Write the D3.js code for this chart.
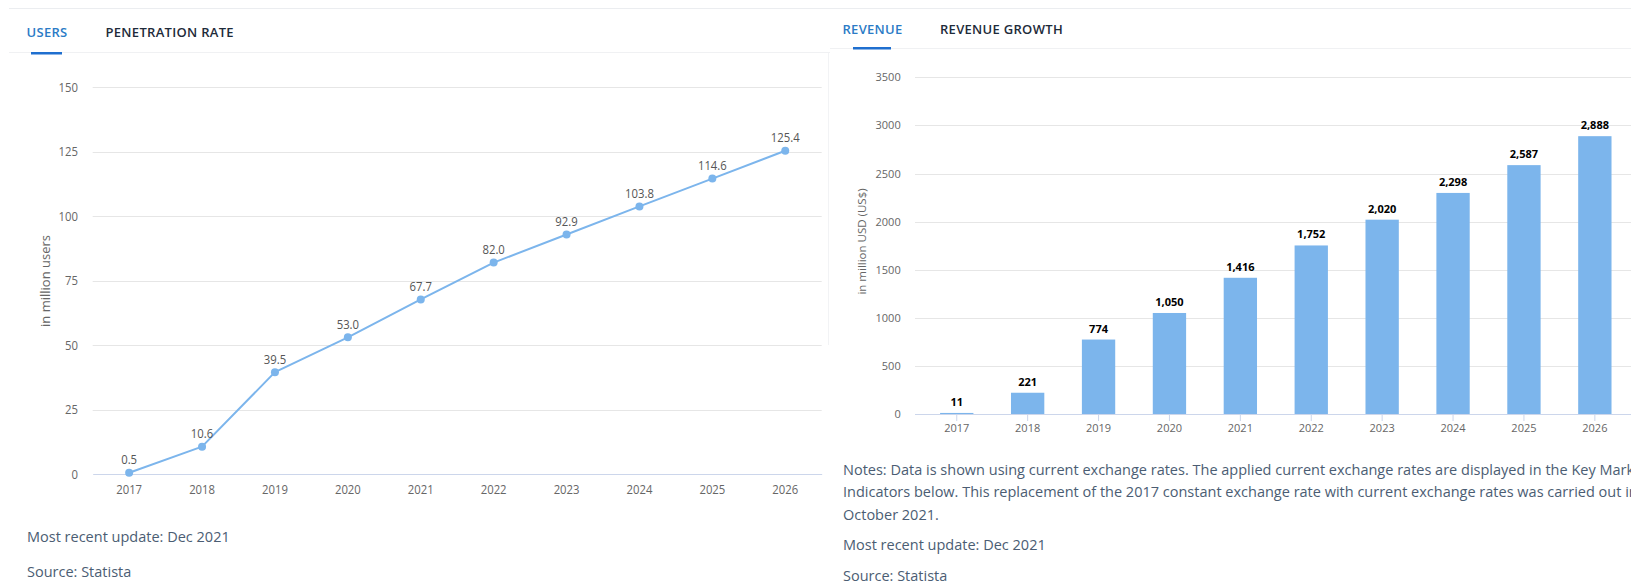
<!DOCTYPE html>
<html>
<head>
<meta charset="utf-8">
<script src="https://cdn.jsdelivr.net/npm/d3@7"></script>
<style>
  html, body { margin: 0; padding: 0; background: #fff; overflow: hidden; }
  svg { display: block; font-family: "Open Sans", "Noto Sans", sans-serif; }
</style>
</head>
<body>
<svg id="chart" width="1631" height="585"></svg>
<script>
// ---- data ----
const years = ["2017", "2018", "2019", "2020", "2021", "2022", "2023", "2024", "2025", "2026"];
const users = [0.5, 10.6, 39.5, 53.0, 67.7, 82.0, 92.9, 103.8, 114.6, 125.4];
const revenue = [11, 221, 774, 1050, 1416, 1752, 2020, 2298, 2587, 2888];
const userTicks = [0, 25, 50, 75, 100, 125, 150];
const revenueTicks = [0, 500, 1000, 1500, 2000, 2500, 3000, 3500];
const leftTabs = ["USERS", "PENETRATION RATE"];
const rightTabs = ["REVENUE", "REVENUE GROWTH"];
const userAxisTitle = "in million users";
const revenueAxisTitle = "in million USD (US$)";
const notesLines = [
  "Notes: Data is shown using current exchange rates. The applied current exchange rates are displayed in the Key Market",
  "Indicators below. This replacement of the 2017 constant exchange rate with current exchange rates was carried out in",
  "October 2021."
];
const footerLines = ["Most recent update: Dec 2021", "Source: Statista"];

// ---- styles ----
const SERIES = "#7cb5ec";
const GRID = "#e6e6e6";
const AXIS = "#ccd6eb";
const LABEL = "#666666";
const TAB_ACTIVE = "#2b7bc6";
const TAB_IDLE = "#1e2b3a";
const FOOT = "#4b5d73";

const svg = d3.select("#chart");
svg.append("rect").attr("width", 1631).attr("height", 585).attr("fill", "#fff");

// narrow the glyphs of a text selection around each element's anchor x
function condense(sel, k) {
  sel.each(function () {
    const t = d3.select(this);
    const x = +t.attr("x") || 0;
    t.attr("transform", `translate(${x},0) scale(${k},1) translate(${-x},0)`);
  });
}

// ---- card frame ----
const frame = svg.append("g").attr("fill", "none");
frame.append("line").attr("x1", 9).attr("x2", 1631).attr("y1", 8.5).attr("y2", 8.5).attr("stroke", "#ebedf0");
frame.append("line").attr("x1", 9).attr("x2", 830).attr("y1", 52.5).attr("y2", 52.5).attr("stroke", "#f0f1f3");
frame.append("line").attr("x1", 830).attr("x2", 1631).attr("y1", 48.5).attr("y2", 48.5).attr("stroke", "#f0f1f3");
frame.append("line").attr("x1", 828.5).attr("x2", 828.5).attr("y1", 53).attr("y2", 345).attr("stroke", "#f2f3f5");

// ---- tabs ----
function tabs(labels, xs, y, underline) {
  const g = svg.append("g")
    .attr("font-size", 13).attr("font-weight", 600).attr("letter-spacing", 0.3);
  labels.forEach((t, i) => {
    g.append("text").attr("x", xs[i]).attr("y", y)
      .attr("fill", i === 0 ? TAB_ACTIVE : TAB_IDLE).text(t);
  });
  svg.append("rect").attr("x", underline[0]).attr("y", underline[1])
    .attr("width", underline[2]).attr("height", 2.5).attr("fill", "#1f6fcf");
}
tabs(leftTabs, [26.5, 105.5], 37, [31, 52, 31]);
tabs(rightTabs, [842.5, 940], 34, [853, 47, 38]);

// ---- users line chart ----
const xL = d3.scaleBand().domain(years).range([92.7, 821.7]);
const yL = d3.scaleLinear().domain([0, 150]).range([474, 87.3]);
const left = svg.append("g");

left.append("g").selectAll("line").data(userTicks.filter(d => d > 0)).join("line")
  .attr("x1", 92.7).attr("x2", 821.7)
  .attr("y1", d => Math.round(yL(d)) + 0.5).attr("y2", d => Math.round(yL(d)) + 0.5)
  .attr("stroke", GRID);

const lyAxis = left.append("g").attr("transform", "translate(92.7,0)")
  .call(d3.axisLeft(yL).tickValues(userTicks).tickSize(0).tickPadding(14.7));
lyAxis.select(".domain").remove();
lyAxis.selectAll("text").attr("fill", LABEL).attr("font-size", 13)
  .attr("font-family", "'Open Sans', sans-serif");
condense(lyAxis.selectAll("text"), 0.87);

const lxAxis = left.append("g").attr("transform", "translate(0,474)")
  .call(d3.axisBottom(xL).tickSize(0).tickSizeOuter(0).tickPadding(11));
lxAxis.select(".domain").attr("stroke", AXIS);
lxAxis.selectAll("text").attr("fill", LABEL).attr("font-size", 13)
  .attr("font-family", "'Open Sans', sans-serif");
condense(lxAxis.selectAll("text"), 0.87);

left.append("text")
  .attr("transform", "translate(49.5,281) rotate(-90)")
  .attr("text-anchor", "middle").attr("font-size", 13).attr("fill", LABEL)
  .text(userAxisTitle);

const pts = years.map((y, i) => ({ year: y, value: users[i] }));
const cx = d => xL(d.year) + xL.bandwidth() / 2;
left.append("path").datum(pts)
  .attr("fill", "none").attr("stroke", SERIES).attr("stroke-width", 2)
  .attr("stroke-linejoin", "round")
  .attr("d", d3.line().x(cx).y(d => yL(d.value)));
left.append("g").selectAll("circle").data(pts).join("circle")
  .attr("cx", cx).attr("cy", d => yL(d.value)).attr("r", 4).attr("fill", SERIES);
const ptLabels = left.append("g").selectAll("text").data(pts).join("text")
  .attr("x", cx).attr("y", d => yL(d.value) - 8.5)
  .attr("text-anchor", "middle").attr("font-size", 13).attr("fill", "#555")
  .text(d => d3.format(".1f")(d.value));
condense(ptLabels, 0.87);

// ---- revenue bar chart ----
const xR = d3.scaleBand().domain(years).range([921.3, 1630.3])
  .paddingInner(0.53).paddingOuter(0.265);
const yR = d3.scaleLinear().domain([0, 3500]).range([414, 77.3]);
const right = svg.append("g");

right.append("g").selectAll("line").data(revenueTicks.filter(d => d > 0)).join("line")
  .attr("x1", 915).attr("x2", 1631)
  .attr("y1", d => Math.round(yR(d)) + 0.5).attr("y2", d => Math.round(yR(d)) + 0.5)
  .attr("stroke", GRID);

const ryAxis = right.append("g").attr("transform", "translate(915,0)")
  .call(d3.axisLeft(yR).tickValues(revenueTicks).tickSize(0).tickPadding(14.3)
    .tickFormat(d3.format("d")));
ryAxis.select(".domain").remove();
ryAxis.selectAll("text").attr("fill", LABEL).attr("font-size", 11)
  .attr("font-family", "'Open Sans', sans-serif");

right.append("text")
  .attr("transform", "translate(865.5,241.5) rotate(-90)")
  .attr("text-anchor", "middle").attr("font-size", 11.5).attr("fill", LABEL)
  .text(revenueAxisTitle);

const bars = years.map((y, i) => ({ year: y, value: revenue[i] }));
right.append("g").selectAll("rect").data(bars).join("rect")
  .attr("x", d => xR(d.year)).attr("width", xR.bandwidth())
  .attr("y", d => yR(d.value)).attr("height", d => yR(0) - yR(d.value))
  .attr("fill", SERIES);

right.append("line").attr("x1", 915).attr("x2", 1631)
  .attr("y1", 414.5).attr("y2", 414.5).attr("stroke", AXIS);

const rxAxis = right.append("g").attr("transform", "translate(0,414)")
  .call(d3.axisBottom(xR).tickSize(7).tickSizeOuter(0).tickPadding(3));
rxAxis.select(".domain").remove();
rxAxis.selectAll(".tick line").attr("stroke", AXIS);
rxAxis.selectAll("text").attr("fill", LABEL).attr("font-size", 11)
  .attr("font-family", "'Open Sans', sans-serif");

right.append("g").selectAll("text").data(bars).join("text")
  .attr("x", d => xR(d.year) + xR.bandwidth() / 2).attr("y", d => yR(d.value) - 7)
  .attr("text-anchor", "middle").attr("font-size", 11).attr("font-weight", 700)
  .attr("fill", "#000")
  .text(d => d3.format(",")(d.value));

// ---- notes and footers ----
const foot = svg.append("g").attr("font-size", 14.5).attr("fill", FOOT);
footerLines.forEach((t, i) => {
  foot.append("text").attr("x", 27).attr("y", [542, 576.5][i]).text(t);
});
notesLines.forEach((t, i) => {
  foot.append("text").attr("x", 843).attr("y", 474.5 + i * 22.5).text(t);
});
footerLines.forEach((t, i) => {
  foot.append("text").attr("x", 843).attr("y", [549.5, 580.5][i]).text(t);
});
</script>
</body>
</html>
